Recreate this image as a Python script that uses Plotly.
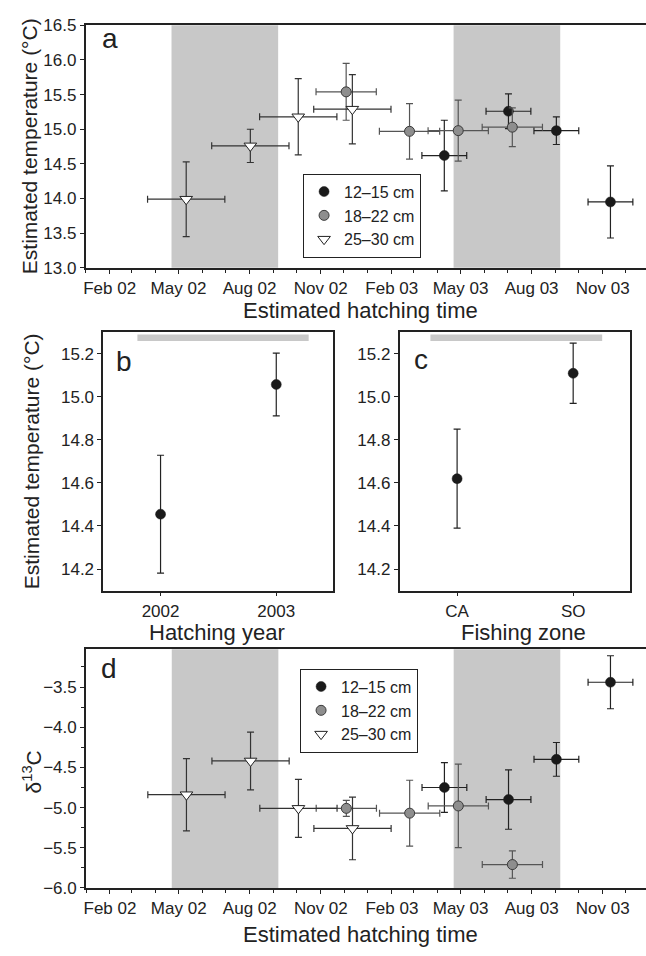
import plotly.graph_objects as go
import pandas as pd

# ---------------- data ----------------
size_classes = ["12–15 cm", "18–22 cm", "25–30 cm"]

dates_small = ["2003-04-10", "2003-07-02", "2003-09-02", "2003-11-11"]
dates_mid = ["2002-12-04", "2003-02-24", "2003-04-28", "2003-07-07"]
dates_large = ["2002-05-11", "2002-08-02", "2002-10-03", "2002-12-12"]
xerr_days = [29, 39, 50]  # half-width of hatching-time error (days) per size class

temp_small = [14.62, 15.26, 14.98, 13.95]
temp_small_err = [0.51, 0.25, 0.20, 0.52]
temp_mid = [15.54, 14.97, 14.98, 15.03]
temp_mid_err = [0.41, 0.40, 0.44, 0.28]
temp_large = [13.99, 14.76, 15.18, 15.29]
temp_large_err = [0.54, 0.24, 0.55, 0.50]

d13c_small = [-4.75, -4.90, -4.40, -3.44]
d13c_small_err = [0.31, 0.37, 0.21, 0.33]
d13c_mid = [-5.01, -5.07, -4.98, -5.71]
d13c_mid_err = [0.10, 0.41, 0.52, 0.17]
d13c_large = [-4.84, -4.42, -5.01, -5.26]
d13c_large_err = [0.45, 0.36, 0.36, 0.39]

years = ["2002", "2003"]
temp_year = [14.455, 15.058]
temp_year_err = [0.274, 0.146]

zones = ["CA", "SO"]
temp_zone = [14.62, 15.11]
temp_zone_err = [0.23, 0.14]

shade_periods = [("2002-04-22", "2002-09-07"), ("2003-04-22", "2003-09-07")]

tick_dates = ["2002-02-01", "2002-05-01", "2002-08-01", "2002-11-01",
              "2003-02-01", "2003-05-01", "2003-08-01", "2003-11-01"]
tick_labels = ["Feb 02", "May 02", "Aug 02", "Nov 02",
               "Feb 03", "May 03", "Aug 03", "Nov 03"]
axis_start, axis_end = "2002-01-01", "2003-12-27"

# ---------------- helpers ----------------
ORIGIN = pd.Timestamp(axis_start)


def day_num(dates):
    return [(pd.Timestamp(d) - ORIGIN).days for d in dates]


W, H = 646, 956
FONT = "Liberation Sans, Arial, Helvetica, sans-serif"
INK = "#222222"
SHADE = "#c8c8c8"

styles = [
    dict(marker=dict(symbol="circle", size=10, color="#1a1a1a",
                     line=dict(width=0.5, color="#1a1a1a")), ecol="#222222"),
    dict(marker=dict(symbol="circle", size=10, color="#8e8e8e",
                     line=dict(width=1, color="#3a3a3a")), ecol="#555555"),
    dict(marker=dict(symbol="triangle-down", size=11, color="white",
                     line=dict(width=1, color="#222222")), ecol="#333333"),
]


def px_x(p):
    return p / W


def px_y(p):
    return 1 - p / H


fig = go.Figure()

series_a = [(dates_small, temp_small, temp_small_err),
            (dates_mid, temp_mid, temp_mid_err),
            (dates_large, temp_large, temp_large_err)]
series_d = [(dates_small, d13c_small, d13c_small_err),
            (dates_mid, d13c_mid, d13c_mid_err),
            (dates_large, d13c_large, d13c_large_err)]

for axes, leg, series in [(("x", "y"), "legend", series_a), (("x4", "y4"), "legend2", series_d)]:
    for (xa, ya, ea), name, st, xd in zip(series, size_classes, styles, xerr_days):
        fig.add_trace(go.Scatter(
            x=day_num(xa), y=ya, mode="markers", name=name,
            xaxis=axes[0], yaxis=axes[1], legend=leg,
            marker=st["marker"],
            error_y=dict(type="data", array=ea, color=st["ecol"], thickness=1.2, width=3.5),
            error_x=dict(type="constant", value=xd, color=st["ecol"], thickness=1.2, width=3.5),
        ))

fig.add_trace(go.Scatter(
    x=list(range(len(years))), y=temp_year, mode="markers", showlegend=False,
    xaxis="x2", yaxis="y2", marker=styles[0]["marker"],
    error_y=dict(type="data", array=temp_year_err, color=INK, thickness=1.2, width=3.5),
))
fig.add_trace(go.Scatter(
    x=list(range(len(zones))), y=temp_zone, mode="markers", showlegend=False,
    xaxis="x3", yaxis="y3", marker=styles[0]["marker"],
    error_y=dict(type="data", array=temp_zone_err, color=INK, thickness=1.2, width=3.5),
))

# shading
shapes = []
for xr, yr in [("x", "y"), ("x4", "y4")]:
    for s, e in shade_periods:
        x0, x1 = day_num([s, e])
        shapes.append(dict(type="rect", xref=xr, yref=yr + " domain",
                           x0=x0, x1=x1, y0=0, y1=1, fillcolor=SHADE, line=dict(width=0),
                           layer="below"))
shapes.append(dict(type="rect", xref="x2", yref="y2", x0=-0.2, x1=1.28, y0=15.26, y1=15.29,
                   fillcolor=SHADE, line=dict(width=0), layer="below"))
shapes.append(dict(type="rect", xref="x3", yref="y3", x0=-0.23, x1=1.25, y0=15.26, y1=15.29,
                   fillcolor=SHADE, line=dict(width=0), layer="below"))

axis_common = dict(showline=True, linecolor=INK, linewidth=1.8, ticks="outside",
                   ticklen=4, tickwidth=1, tickcolor=INK, showgrid=False, zeroline=False,
                   tickfont=dict(size=17, color=INK, family=FONT))

month_starts = pd.date_range(axis_start, axis_end, freq="MS").strftime("%Y-%m-%d").tolist()

time_axis = dict(axis_common, range=day_num([axis_start, axis_end]),
                 tickmode="array", tickvals=day_num(tick_dates), ticktext=tick_labels,
                 mirror=True,
                 minor=dict(tickmode="array", tickvals=day_num(month_starts), ticklen=3,
                            tickcolor=INK, ticks="outside"))

temp_ticks_a = [13.0, 13.5, 14.0, 14.5, 15.0, 15.5, 16.0, 16.5]
temp_ticks_bc = [14.2, 14.4, 14.6, 14.8, 15.0, 15.2]
d13c_ticks = [-6.0, -5.5, -5.0, -4.5, -4.0, -3.5]

legend_style = dict(xanchor="left", yanchor="top", bordercolor=INK, borderwidth=1,
                    bgcolor="white", font=dict(size=16, family=FONT, color=INK),
                    tracegroupgap=0, itemsizing="trace", itemwidth=30)

fig.update_layout(
    width=W, height=H, margin=dict(l=0, r=0, t=0, b=0),
    paper_bgcolor="white", plot_bgcolor="white",
    font=dict(family=FONT, color=INK, size=16),
    shapes=shapes,
    xaxis=dict(time_axis, domain=[px_x(84), 1.0], anchor="y"),
    yaxis=dict(axis_common, domain=[px_y(264), px_y(16.7)], range=[13.0, 16.5],
               tickvals=temp_ticks_a, tickformat=".1f", anchor="x"),
    xaxis2=dict(axis_common, domain=[px_x(101.7), px_x(332)], range=[-0.494, 1.49],
                tickvals=list(range(len(years))), ticktext=years, mirror=True, anchor="y2"),
    yaxis2=dict(axis_common, domain=[px_y(593.3), px_y(330)], range=[14.1, 15.3],
                tickvals=temp_ticks_bc, tickformat=".1f", mirror=True, anchor="x2"),
    xaxis3=dict(axis_common, domain=[px_x(399), px_x(630)], range=[-0.494, 1.49],
                tickvals=list(range(len(zones))), ticktext=zones, mirror=True, anchor="y3"),
    yaxis3=dict(axis_common, domain=[px_y(593.3), px_y(330)], range=[14.1, 15.3],
                tickvals=temp_ticks_bc, tickformat=".1f", mirror=True, anchor="x3"),
    xaxis4=dict(time_axis, domain=[px_x(84.3), 1.0], anchor="y4"),
    yaxis4=dict(axis_common, domain=[px_y(896.7), px_y(653.3)], range=[-6.0, -3.03],
                tickvals=d13c_ticks, tickformat=".1f", anchor="x4",
                minor=dict(dtick=0.25, tick0=-6.0, ticklen=3, tickcolor=INK, ticks="outside")),
    legend=dict(legend_style, x=px_x(302), y=px_y(168)),
    legend2=dict(legend_style, x=px_x(299), y=px_y(673)),
)

ann = []


def add_text(text, x, y, size, angle=0, xanchor="center", yanchor="middle"):
    ann.append(dict(text=text, x=px_x(x), y=px_y(y), xref="paper", yref="paper",
                    showarrow=False, textangle=angle, xanchor=xanchor, yanchor=yanchor,
                    font=dict(size=size, family=FONT, color=INK)))


add_text("Estimated temperature (°C)", 27, 140, 21, angle=-90)
add_text("Estimated temperature (°C)", 29, 461.5, 21, angle=-90)
add_text("δ<sup>13</sup>C", 30, 778, 21, angle=-90)
add_text("Estimated hatching time", 360, 308, 22)
add_text("Hatching year", 216, 636, 22)
add_text("Fishing zone", 523, 636, 22)
add_text("Estimated hatching time", 360, 944, 22)
add_text("a", 98, 30, 28, xanchor="left")
add_text("b", 112, 360, 28, xanchor="left")
add_text("c", 411, 358, 28, xanchor="left")
add_text("d", 97, 673, 28, xanchor="left")

fig.update_layout(annotations=ann)

fig.write_html("out.html")
